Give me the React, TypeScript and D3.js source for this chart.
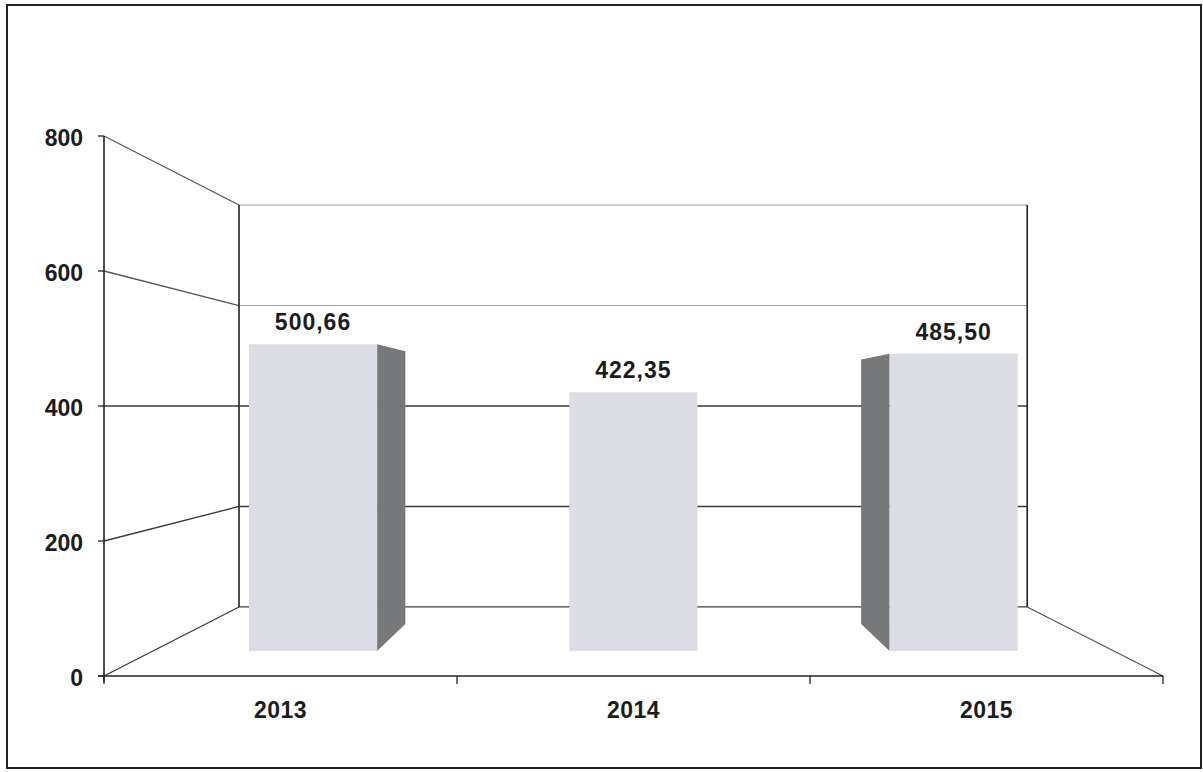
import React from "react";
import * as d3 from "d3";

const years = ["2013", "2014", "2015"];
const values = [500.66, 422.35, 485.5];
const yTicks = [0, 200, 400, 600, 800];

const W = 1203;
const H = 772;
// front plane geometry
const X0 = 104;
const X1 = 1163;
const Y0 = 676;
const Y1 = 136;
// vanishing point & depths
const VP = { x: 632, y: 406 };
const tBack = 0.2557;
const tBarFront = 0.0926;
const tBarBack = 0.193;

const x = d3.scaleBand<string>().domain(years).range([X0, X1]).paddingInner(0.6).paddingOuter(0.3);
const xCat = d3.scaleBand<string>().domain(years).range([X0, X1]).padding(0);
const y = d3.scaleLinear().domain([0, 800]).range([Y0, Y1]);

function p(X: number, Y: number, t: number): [number, number] {
  return [VP.x + (X - VP.x) * (1 - t), VP.y + (Y - VP.y) * (1 - t)];
}
const poly = (pts: [number, number][]) => pts.map((q) => q.join(",")).join(" ");

const fmt = (v: number) => v.toFixed(2).replace(".", ",");

export default function App() {
  const font = "'Liberation Sans', Arial, sans-serif";
  const lineCol = "#3a3a3a";
  const bl = p(X0, Y0, tBack);
  const br = p(X1, Y0, tBack);
  const tl = p(X0, Y1, tBack);
  const tr = p(X1, Y1, tBack);
  const fs = 23;
  return (
    <svg width={W} height={H} style={{ position: "absolute", left: 0, top: 0, background: "#fff" }}>
      <rect x={7} y={5} width={1194} height={763} fill="#fff" stroke="#222" strokeWidth={2} />
      {/* back wall gridlines */}
      {yTicks.map((v) => {
        const a = p(X0, y(v), tBack);
        const b = p(X1, y(v), tBack);
        const light = v === 600 || v === 800;
        return (
          <g key={"g" + v}>
            <line x1={a[0]} y1={a[1]} x2={b[0]} y2={b[1]} stroke={light ? "#9aa39a" : lineCol} strokeWidth={light ? 1 : 1.3} />
            <line x1={X0} y1={y(v)} x2={a[0]} y2={a[1]} stroke={light ? "#556" : lineCol} strokeWidth={1.3} />
          </g>
        );
      })}
      {/* wall edges */}
      <line x1={tl[0]} y1={tl[1]} x2={bl[0]} y2={bl[1]} stroke="#222" strokeWidth={1.6} />
      <line x1={tr[0]} y1={tr[1]} x2={br[0]} y2={br[1]} stroke="#222" strokeWidth={1.6} />
      <line x1={X1} y1={Y0} x2={br[0]} y2={br[1]} stroke="#555" strokeWidth={1.2} />
      {/* bars */}
      {years.map((yr, i) => {
        const xl = x(yr)!;
        const xr = xl + x.bandwidth();
        const yt = y(values[i]);
        const f = [p(xl, yt, tBarFront), p(xr, yt, tBarFront), p(xr, Y0, tBarFront), p(xl, Y0, tBarFront)] as [number, number][];
        let side: [number, number][] | null = null;
        if (xr < VP.x) side = [p(xr, yt, tBarFront), p(xr, yt, tBarBack), p(xr, Y0, tBarBack), p(xr, Y0, tBarFront)];
        else if (xl > VP.x) side = [p(xl, yt, tBarFront), p(xl, yt, tBarBack), p(xl, Y0, tBarBack), p(xl, Y0, tBarFront)];
        const top = p((xl + xr) / 2, yt, tBarFront);
        return (
          <g key={yr}>
            {side && <polygon points={poly(side)} fill="#76787a" />}
            <polygon points={poly(f)} fill="#dcdde4" />
            <text x={top[0]} y={top[1] - 14} textAnchor="middle" fontFamily={font} fontWeight="bold" fontSize={fs} letterSpacing={1} fill="#1c1c1c">
              {fmt(values[i])}
            </text>
          </g>
        );
      })}
      {/* front axes */}
      <line x1={X0} y1={Y1} x2={X0} y2={Y0 + 6} stroke="#222" strokeWidth={1.6} />
      <line x1={X0 - 6} y1={Y0} x2={X1} y2={Y0} stroke="#222" strokeWidth={1.6} />
      {yTicks.map((v) => (
        <g key={"t" + v}>
          <line x1={X0 - 6} y1={y(v)} x2={X0} y2={y(v)} stroke="#222" strokeWidth={1.3} />
          <text x={X0 - 21} y={y(v) + 9.5} textAnchor="end" fontFamily={font} fontWeight="bold" fontSize={fs} fill="#1c1c1c">
            {v}
          </text>
        </g>
      ))}
      {[...years.map((yr) => xCat(yr)!), X1].map((xv, i) => (
        <line key={"xt" + i} x1={xv} y1={Y0} x2={xv} y2={Y0 + 8} stroke="#222" strokeWidth={1.3} />
      ))}
      {years.map((yr) => (
        <text key={"xl" + yr} x={xCat(yr)! + xCat.bandwidth() / 2} y={Y0 + 42} textAnchor="middle" fontFamily={font} fontWeight="bold" fontSize={fs} letterSpacing={0.5} fill="#1c1c1c">
          {yr}
        </text>
      ))}
    </svg>
  );
}
